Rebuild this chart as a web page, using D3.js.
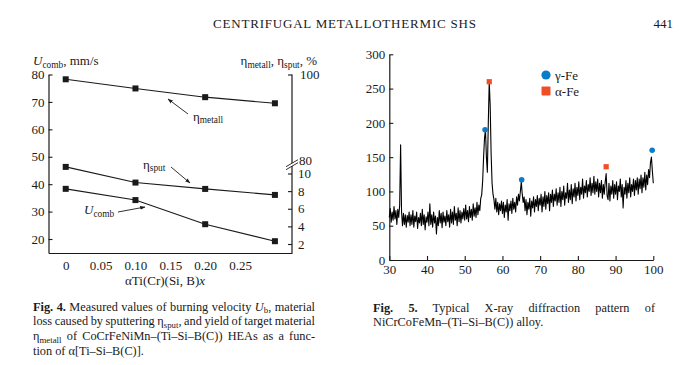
<!DOCTYPE html>
<html><head><meta charset="utf-8">
<script src="https://cdn.jsdelivr.net/npm/d3@7"></script>
<style>
body{margin:0;background:#fff}
svg{font-family:"Liberation Serif","Times New Roman",serif;}
</style>
</head><body>
<svg id="c" width="697" height="365"></svg>
<script>
// ---------- Fig. 4 data ----------
const alphaX = [0, 0.10, 0.20, 0.30];
const uComb = [38.3, 34.2, 25.4, 19.2];
const etaSput = [10.75, 8.97, 8.25, 7.57];
const etaMetall = [98.9, 96.8, 94.8, 93.4];
const leftXTicks = [0, 0.05, 0.10, 0.15, 0.20, 0.25];
const leftXTickLabels = ["0", "0.05", "0.10", "0.15", "0.20", "0.25"];
const uTicks = [20, 30, 40, 50, 60, 70, 80];
const sputTicks = [2, 4, 6, 8, 10];
const metallTicks = [100];
const metallBreakLabel = "80";

// ---------- Fig. 5 data ----------
const twoThetaStart = 30, twoThetaStep = 0.25;
const xrdIntensity = [
  62,75,55,70,58,78,60,72,52,74,62,80,168,70,50,68,52,66,48,65,
  55,70,50,66,52,72,48,64,56,70,46,62,54,68,50,74,52,66,44,63,
  55,70,50,82,52,66,48,70,54,64,38,62,50,72,54,68,47,70,55,64,
  50,72,56,66,48,74,54,70,52,78,58,68,50,76,56,72,54,70,60,75,
  58,80,60,72,56,78,62,74,58,82,64,76,62,84,66,80,72,90,95,115,
  150,178,190,150,128,200,260,225,155,112,96,88,74,90,70,84,66,82,72,86,
  68,84,62,80,70,88,58,82,72,86,68,90,74,84,70,92,80,96,86,100,
  114,96,84,92,72,88,66,84,74,90,64,86,76,92,70,88,78,94,72,90,
  80,96,70,92,78,100,74,94,82,98,72,96,84,102,78,96,86,104,80,98,
  84,106,78,100,88,108,80,98,90,112,84,102,88,110,82,104,92,112,86,106,
  94,114,88,106,96,118,90,108,98,116,92,110,100,120,94,112,98,122,96,114,
  100,118,92,112,98,116,90,110,96,114,126,94,88,112,86,108,96,116,90,110,
  96,114,88,108,100,118,92,110,76,106,96,116,90,112,98,120,92,110,100,118,
  94,116,102,120,96,118,104,124,98,120,106,128,102,124,110,132,120,142,150,130,
  112
];
const gammaPeaks2Theta = [55.4, 65.1, 99.7];
const gammaPeaksI = [190, 117, 160];
const alphaPeaks2Theta = [56.5, 87.5];
const alphaPeaksI = [260, 136];
const xrdXTicks = [30, 40, 50, 60, 70, 80, 90, 100];
const xrdYTicks = [0, 50, 100, 150, 200, 250, 300];
const legendLabels = ["γ-Fe", "α-Fe"];

const BLUE = "#0b7dc8", RED = "#ef4e26", INK = "#1a1a1a";
const svg = d3.select("#c");

function rich(sel, x, y, parts, size, anchor) {
  const t = sel.append("text").attr("x", x).attr("y", y)
    .attr("font-size", size).attr("fill", INK);
  if (anchor) t.attr("text-anchor", anchor);
  parts.forEach(p => {
    const ts = t.append("tspan").text(p.t);
    if (p.b) ts.attr("font-weight", "bold");
    if (p.i) ts.attr("font-style", "italic");
    if (p.sub) ts.attr("font-size", size * 0.72).attr("dy", size * 0.22);
    if (p.after) ts.attr("dy", -size * 0.22);
  });
  return t;
}
function justify(t, width) {
  const nat = t.node().getComputedTextLength();
  const n = (t.text().match(/ /g) || []).length;
  if (n) t.attr("word-spacing", (width - nat) / n);
}

// ---------- Header ----------
svg.append("text").attr("x", 213).attr("y", 27.5).attr("font-size", 13)
  .attr("textLength", 263).attr("lengthAdjust", "spacing").attr("fill", INK)
  .text("CENTRIFUGAL METALLOTHERMIC SHS");
svg.append("text").attr("x", 673).attr("y", 27.5).attr("font-size", 13)
  .attr("text-anchor", "end").attr("fill", INK).text("441");

// ---------- Fig. 4 ----------
const g4 = svg.append("g");
const x4 = d3.scaleLinear().domain([-0.0247, 0.3245]).range([48.5, 292]);
const yU = d3.scaleLinear().domain([14.9, 80]).range([253, 74.5]);
const yM = d3.scaleLinear().domain([80, 100]).range([161.7, 74.5]);
const yS = d3.scaleLinear().domain([2, 10]).range([244, 173.5]);

const axL = g4.append("g").attr("transform", "translate(48.5,0)")
  .call(d3.axisLeft(yU).tickValues(uTicks).tickSizeInner(-4).tickSizeOuter(0).tickPadding(4).tickFormat(d3.format("d")));
const axB = g4.append("g").attr("transform", "translate(0,253)")
  .call(d3.axisBottom(x4).tickValues(leftXTicks).tickSize(0).tickPadding(7.5)
    .tickFormat((d, i) => leftXTickLabels[i]));
g4.append("line").attr("x1", 292).attr("x2", 292).attr("y1", 74.5).attr("y2", 253).attr("stroke", INK).attr("stroke-width", 1.2);
const axRM = g4.append("g").attr("transform", "translate(292,0)")
  .call(d3.axisRight(yM).tickValues(metallTicks).tickSizeInner(-4).tickSizeOuter(0).tickPadding(8));
axRM.select(".domain").remove();
const axRS = g4.append("g").attr("transform", "translate(292,0)")
  .call(d3.axisRight(yS).tickValues(sputTicks).tickSizeInner(-4).tickSizeOuter(0).tickPadding(6));
axRS.select(".domain").remove();
g4.append("text").attr("x", 299).attr("y", yM(80) + 3.5).attr("font-size", 13).attr("fill", INK).text(metallBreakLabel);
const by = yM(80) + 2;
g4.append("polygon").attr("points", `286,${by+3} 298,${by-4} 298,${by-1} 286,${by+6}`).attr("fill", "#fff");
g4.append("line").attr("x1", 286).attr("y1", by + 3).attr("x2", 298).attr("y2", by - 4).attr("stroke", INK).attr("stroke-width", 0.9);
g4.append("line").attr("x1", 286).attr("y1", by + 6).attr("x2", 298).attr("y2", by - 1).attr("stroke", INK).attr("stroke-width", 0.9);

[axL, axB, axRM, axRS].forEach(a => {
  a.selectAll("text").attr("font-size", 13).attr("fill", INK).attr("font-family", "Liberation Serif");
  a.selectAll("line").attr("stroke", INK).attr("stroke-width", 1.1);
  a.selectAll(".domain").attr("stroke", INK).attr("stroke-width", 1.2);
});

function series(vals, ys) {
  const line = d3.line().x((d, i) => x4(alphaX[i])).y(d => ys(d));
  g4.append("path").datum(vals).attr("d", line).attr("fill", "none").attr("stroke", INK).attr("stroke-width", 1.1);
  g4.selectAll(null).data(vals).join("rect")
    .attr("x", (d, i) => x4(alphaX[i]) - 3).attr("y", d => ys(d) - 3)
    .attr("width", 6).attr("height", 6).attr("fill", INK);
}
series(etaMetall, yM);
series(etaSput, yS);
series(uComb, yU);

const defs = svg.append("defs");
defs.append("marker").attr("id", "ah").attr("viewBox", "0 0 10 10").attr("refX", 9).attr("refY", 5)
  .attr("markerWidth", 6).attr("markerHeight", 6).attr("orient", "auto")
  .append("path").attr("d", "M0,1.5 L10,5 L0,8.5 Z").attr("fill", INK);
function arrow(x1, y1, x2, y2) {
  g4.append("line").attr("x1", x1).attr("y1", y1).attr("x2", x2).attr("y2", y2)
    .attr("stroke", INK).attr("stroke-width", 0.9).attr("marker-end", "url(#ah)");
}
arrow(188, 114, 168, 99);
rich(g4, 193, 120.5, [{t: "η"}, {t: "metall", sub: true}], 13);
arrow(171, 167, 190, 183);
rich(g4, 143, 168.5, [{t: "η"}, {t: "sput", sub: true}], 13);
arrow(118, 212, 145, 207);
rich(g4, 84, 214, [{t: "U", i: true}, {t: "comb", sub: true}], 13);

rich(g4, 33, 65, [{t: "U", i: true}, {t: "comb", sub: true}, {t: ", mm/s", after: true}], 13);
rich(g4, 317, 65, [{t: "η"}, {t: "metall", sub: true}, {t: ", η", after: true}, {t: "sput", sub: true}, {t: ", %", after: true}], 13, "end");
rich(g4, 165, 284.5, [{t: "αTi(Cr)(Si, B)"}, {t: "x", i: true}], 13, "middle");

// ---------- Fig. 5 ----------
const g5 = svg.append("g");
const x5 = d3.scaleLinear().domain([30, 100]).range([389.3, 653.3]);
const y5 = d3.scaleLinear().domain([0, 300]).range([260, 54.3]);
const ax5L = g5.append("g").attr("transform", "translate(389.3,0)")
  .call(d3.axisLeft(y5).tickValues(xrdYTicks).tickSizeInner(-4).tickSizeOuter(0).tickPadding(4));
const ax5B = g5.append("g").attr("transform", "translate(0,260)")
  .call(d3.axisBottom(x5).tickValues(xrdXTicks).tickSizeInner(-4).tickSizeOuter(0).tickPadding(5));
[ax5L, ax5B].forEach(a => {
  a.selectAll("text").attr("font-size", 13).attr("fill", INK).attr("font-family", "Liberation Serif");
  a.selectAll("line").attr("stroke", INK).attr("stroke-width", 1.1);
  a.selectAll(".domain").attr("stroke", INK).attr("stroke-width", 1.2);
});
const xrdLine = d3.line().x((d, i) => x5(twoThetaStart + i * twoThetaStep)).y(d => y5(d));
g5.append("path").datum(xrdIntensity).attr("d", xrdLine).attr("fill", "none")
  .attr("stroke", "#000").attr("stroke-width", 1.1).attr("stroke-linejoin", "round");
g5.selectAll(null).data(gammaPeaks2Theta).join("circle")
  .attr("cx", d => x5(d)).attr("cy", (d, i) => y5(gammaPeaksI[i])).attr("r", 2.8).attr("fill", BLUE);
g5.selectAll(null).data(alphaPeaks2Theta).join("rect")
  .attr("x", d => x5(d) - 2.6).attr("y", (d, i) => y5(alphaPeaksI[i]) - 2.6)
  .attr("width", 5.2).attr("height", 5.2).attr("fill", RED);
g5.append("circle").attr("cx", 546).attr("cy", 75).attr("r", 4.6).attr("fill", BLUE);
g5.append("rect").attr("x", 541.5).attr("y", 86.5).attr("width", 9).attr("height", 9).attr("rx", 1).attr("fill", RED);
g5.append("text").attr("x", 555).attr("y", 79.5).attr("font-size", 13).attr("fill", INK).text(legendLabels[0]);
g5.append("text").attr("x", 555).attr("y", 95.5).attr("font-size", 13).attr("fill", INK).text(legendLabels[1]);

// ---------- Captions ----------
const c1 = [
  [{t: "Fig. 4.", b: true}, {t: " Measured values of burning velocity "}, {t: "U", i: true}, {t: "b", sub: true}, {t: ", material", after: true}],
  [{t: "loss caused by sputtering η"}, {t: "sput", sub: true}, {t: ", and yield of target material", after: true}],
  [{t: "η"}, {t: "metall", sub: true}, {t: " of CoCrFeNiMn–(Ti–Si–B(C)) HEAs as a func-", after: true}],
  [{t: "tion of α[Ti–Si–B(C)]."}]
];
c1.forEach((parts, i) => {
  const t = rich(svg, 33, 310.5 + i * 14.7, parts, 12.3);
  if (i < 3) justify(t, 282);
});
const c2a = rich(svg, 373, 311.5, [{t: "Fig. 5.", b: true}, {t: " Typical X-ray diffraction pattern of"}], 12.3);
justify(c2a, 282);
rich(svg, 373, 325.5, [{t: "NiCrCoFeMn–(Ti–Si–B(C)) alloy."}], 12.3);
</script>
</body></html>
